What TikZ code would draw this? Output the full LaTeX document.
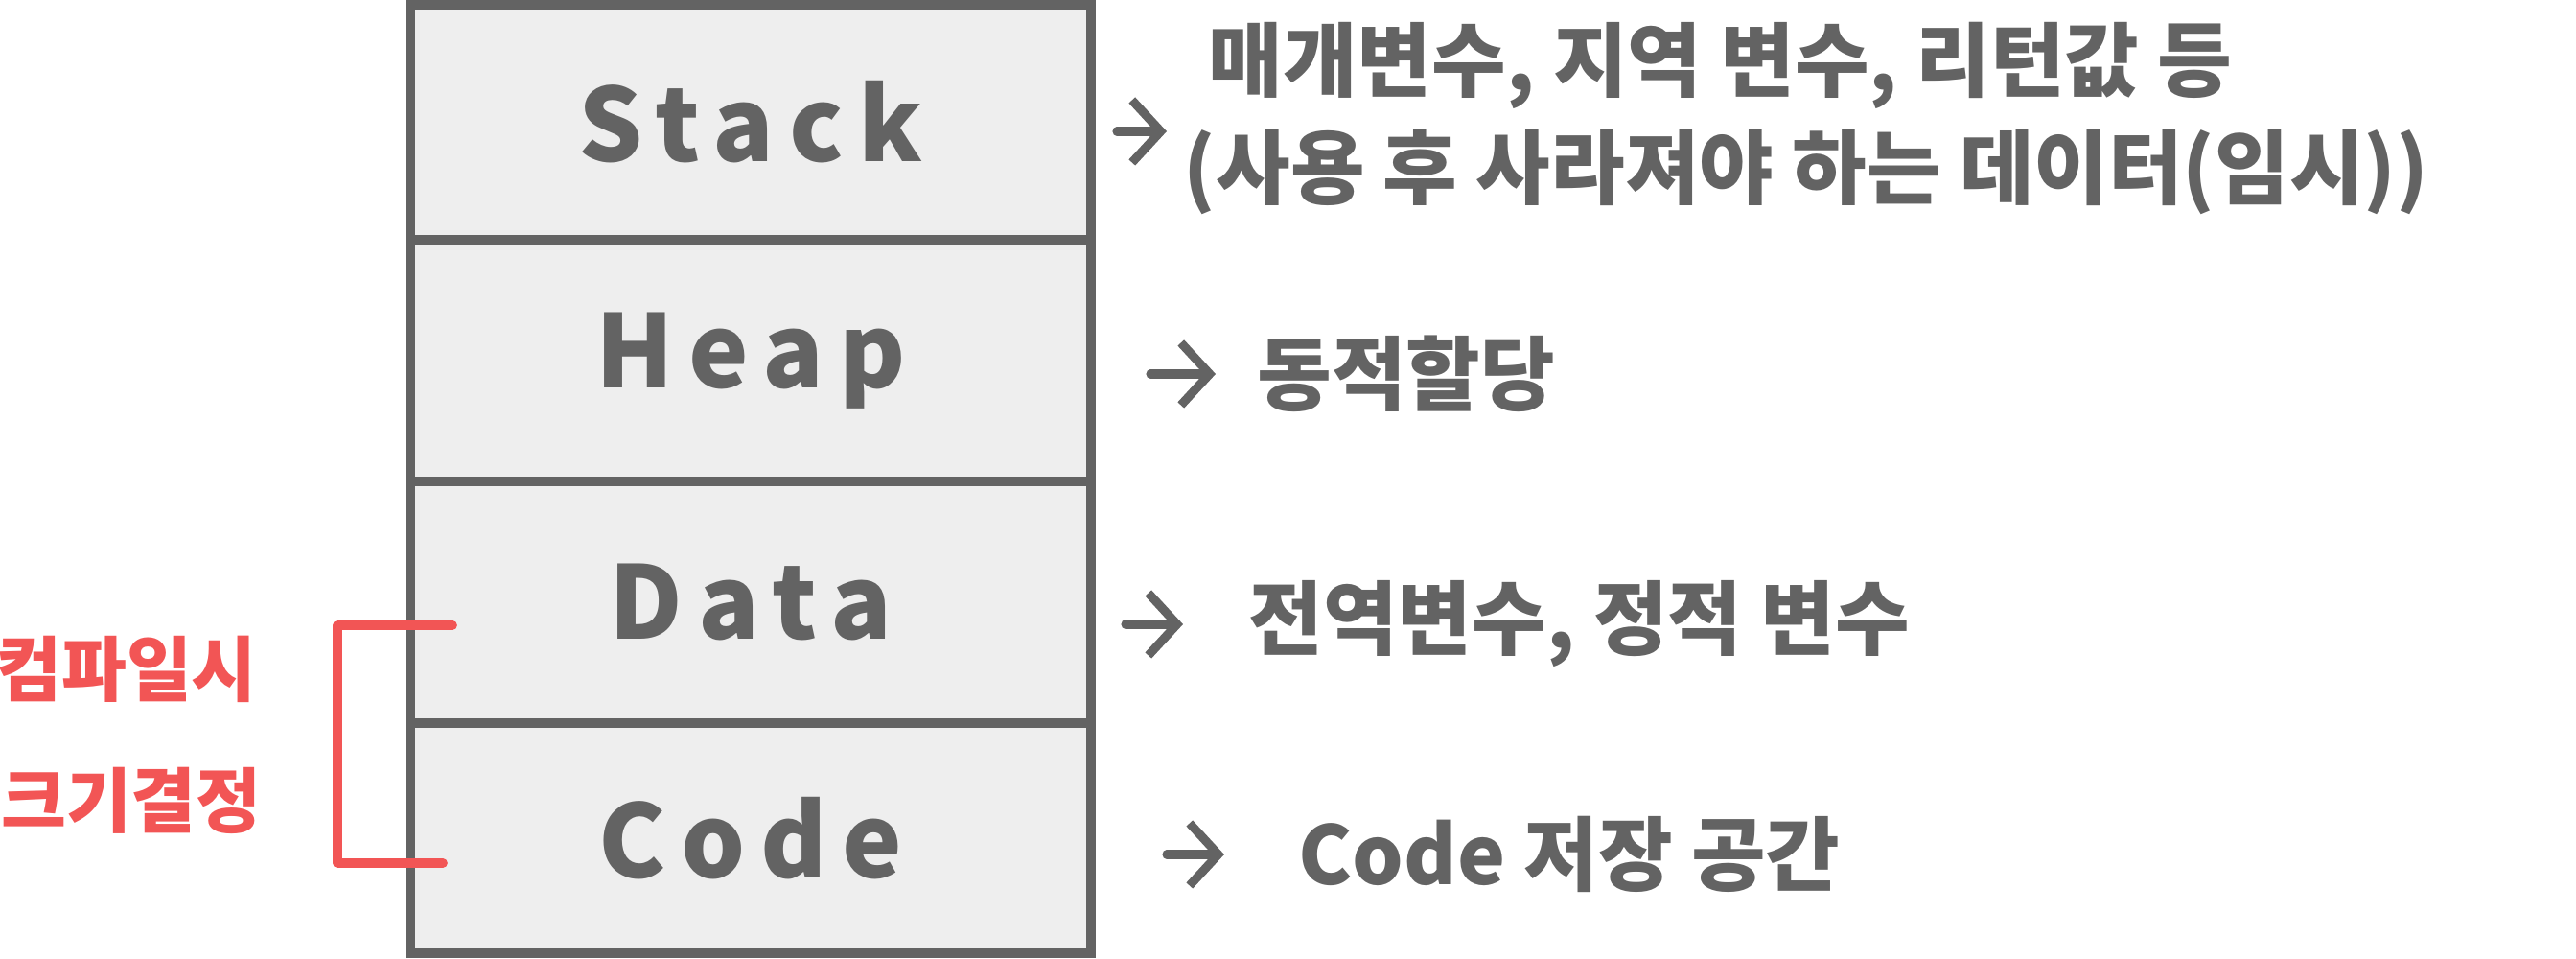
\documentclass[tikz,border=0pt]{standalone}
\usepackage{fontspec}
\newfontfamily\kofont{Noto Sans CJK KR}
\newfontfamily\cellfont[LetterSpace=15]{Noto Sans CJK KR}
\usetikzlibrary{arrows.meta, positioning}
\definecolor{pen}{HTML}{636363}
\definecolor{cellgray}{HTML}{EEEEEE}
\definecolor{redpen}{HTML}{F25555}

\begin{document}
\begin{tikzpicture}
  \tikzset{cell/.style={rectangle, draw=pen, fill=cellgray, line width=3pt,
                        minimum width=7.1cm, outer sep=0pt, inner sep=0pt,
                        text=pen, font=\cellfont\bfseries\fontsize{30}{30}\selectfont}}
  \tikzset{note/.style={anchor=west, inner sep=0pt, text=pen,
                        font=\kofont\bfseries\fontsize{24}{24}\selectfont}}
  \tikzset{jot/.style={draw=pen, line width=2.6pt, line cap=round,
                       -{Straight Barb[length=3mm, width=6.5mm, line width=2.6pt]}}}
  \tikzset{redtext/.style={text=redpen, font=\kofont\bfseries\fontsize{21}{21}\selectfont}}
  \useasboundingbox (0,0) rectangle (26.87,10);

  % memory layout, top to bottom
  \node[cell, minimum height=2.45cm] (stack) at (7.83,8.725) {Stack};
  \node[cell, minimum height=2.52cm, below=0pt of stack] (heap) {Heap};
  \node[cell, minimum height=2.52cm, below=0pt of heap] (data) {Data};
  \node[cell, minimum height=2.40cm, below=0pt of data] (code) {Code};

  % Stack notes
  \coordinate (sa) at (11.65,8.63);
  \coordinate[right=0.52cm of sa] (sb);
  \node[note] (stacknote1) at (12.60,9.32) {매개변수, 지역 변수, 리턴값 등};
  \node[note] (stacknote2) at (12.34,8.20) {(사용 후 사라져야 하는 데이터(임시))};
  \draw[jot] (sa) -- (sb);

  % Heap note
  \coordinate (ha) at (12.00,6.10);
  \coordinate[right=0.68cm of ha] (hb);
  \node[note, right=0.43cm of hb] (heapnote) {동적할당};
  \draw[jot] (ha) -- (hb);

  % Data note
  \coordinate (da) at (11.74,3.49);
  \coordinate[right=0.60cm of da] (db);
  \node[note, right=0.68cm of db] (datanote) {전역변수, 정적 변수};
  \draw[jot] (da) -- (db);

  % Code note
  \coordinate (ca) at (12.17,1.09);
  \coordinate[right=0.60cm of ca] (cb);
  \node[note, right=0.77cm of cb] (codenote) {Code 저장 공간};
  \draw[jot] (ca) -- (cb);

  % compile-time bracket over Data and Code
  \coordinate (bt) at (4.72,3.48);
  \coordinate (bb) at (4.62,1.00);
  \draw[redpen, line width=2.8pt, line cap=round, line join=round]
    (bt) -- (3.52,3.48) -- (3.52,1.00) -- (bb);
  \node[redtext] (ctime) at (1.32,3.02) {컴파일시};
  \node[redtext] (csize) at (1.37,1.65) {크기결정};
\end{tikzpicture}
\end{document}
